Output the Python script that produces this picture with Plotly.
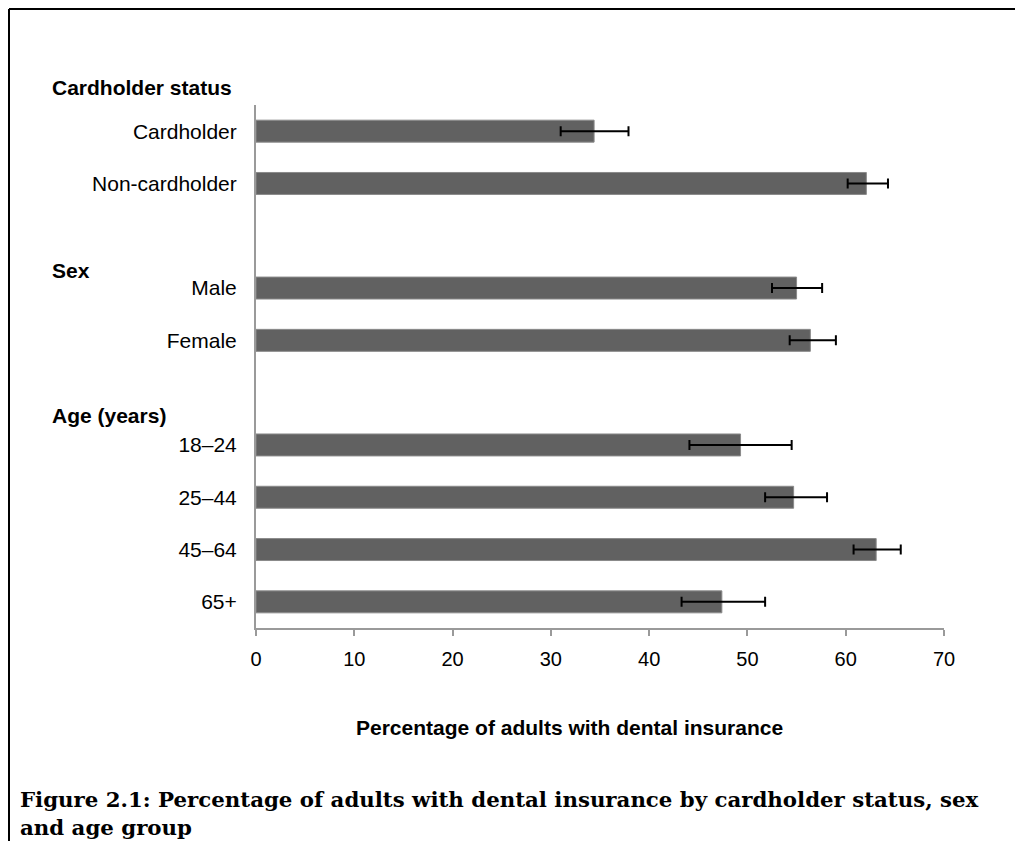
import plotly.graph_objects as go

# Data
categories = ["Cardholder", "Non-cardholder", " ", "Male", "Female", "  ",
              "18–24", "25–44", "45–64", "65+"]
values = [34.4, 62.1, None, 55.0, 56.4, None, 49.3, 54.7, 63.1, 47.4]
err_low = [31.0, 60.2, None, 52.5, 54.3, None, 44.1, 51.8, 60.8, 43.3]
err_high = [37.9, 64.3, None, 57.6, 59.0, None, 54.5, 58.1, 65.6, 51.8]
x_ticks = [0, 10, 20, 30, 40, 50, 60, 70]
group_headers = ["Cardholder status", "Sex", "Age (years)"]
x_title = "Percentage of adults with dental insurance"
caption_lines = ["Figure 2.1: Percentage of adults with dental insurance by cardholder status, sex",
                 "and age group"]

plus = [None if v is None else h - v for v, h in zip(values, err_high)]
minus = [None if v is None else v - l for v, l in zip(values, err_low)]

W, H = 1015, 841
L, R, T, B = 256, 71, 105, 213
PW, PH = W - L - R, H - T - B


def px(x):
    return (x - L) / PW


def py(y):
    return (H - B - y) / PH


fig = go.Figure()
fig.add_trace(go.Bar(
    y=categories, x=values, orientation="h",
    marker=dict(color="#616161", line=dict(color="#8a8a8a", width=1)),
    width=0.42,
    error_x=dict(type="data", symmetric=False, array=plus, arrayminus=minus,
                 color="black", thickness=2, width=5),
    showlegend=False,
))

font_sans = "Liberation Sans, Arial, sans-serif"
fig.update_layout(
    width=W, height=H,
    margin=dict(l=L, r=R, t=T, b=B, pad=0),
    paper_bgcolor="white", plot_bgcolor="white",
    font=dict(family=font_sans, size=20, color="black"),
    xaxis=dict(range=[0, 70], tickvals=x_ticks, showgrid=False, zeroline=False,
               showline=True, linecolor="#9a9a9a", linewidth=2,
               ticks="outside", ticklen=6, tickcolor="#9a9a9a", tickwidth=1.5,
               tickfont=dict(size=20, color="black"), ticklabelstandoff=6),
    yaxis=dict(categoryorder="array", categoryarray=categories, autorange="reversed",
               showgrid=False, zeroline=False, showline=True, linecolor="#9a9a9a",
               linewidth=2, ticks="", tickfont=dict(size=21, color="black"),
               ticklabelstandoff=13),
    bargap=0.58,
)

# Group header labels
header_y = [87, 270, 415]
for text, yy in zip(group_headers, header_y):
    fig.add_annotation(text="<b>%s</b>" % text, xref="paper", yref="paper",
                       x=px(50), y=py(yy), xanchor="left", yanchor="middle",
                       showarrow=False, font=dict(size=21, family=font_sans))

# Axis title
fig.add_annotation(text="<b>%s</b>" % x_title, xref="paper", yref="paper",
                   x=px(569), y=py(727), xanchor="center", yanchor="middle",
                   showarrow=False, font=dict(size=21, family=font_sans))

# Caption
fig.add_annotation(text="<br>".join("<b>%s</b>" % s for s in caption_lines),
                   xref="paper", yref="paper", x=px(18), y=py(785),
                   xanchor="left", yanchor="top", align="left", showarrow=False,
                   font=dict(size=21.3, family="DejaVu Serif, serif"))

# Border (top and left lines of the frame)
fig.add_shape(type="line", xref="paper", yref="paper", x0=px(9), x1=px(1015),
              y0=py(9), y1=py(9), line=dict(color="black", width=2))
fig.add_shape(type="line", xref="paper", yref="paper", x0=px(9), x1=px(9),
              y0=py(9), y1=py(841), line=dict(color="black", width=2))

fig.write_html("out.html", config={"displayModeBar": False},
               post_script="document.body.style.margin='0';")
